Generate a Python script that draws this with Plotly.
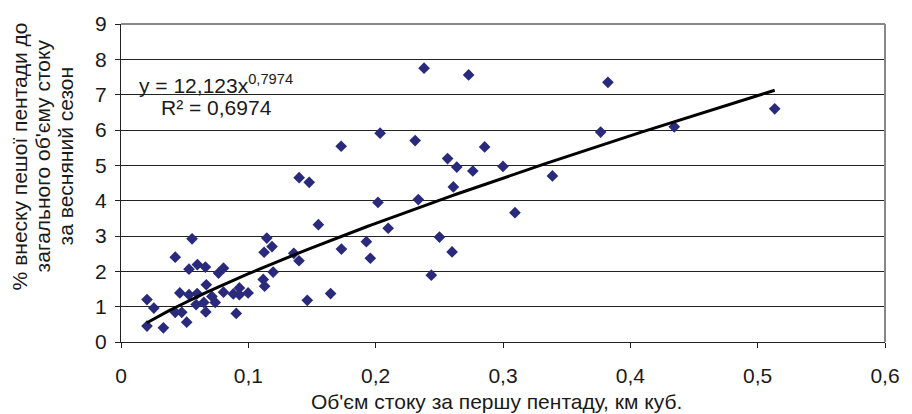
import numpy as np
import plotly.graph_objects as go

# Data
x_vals = [0.0204, 0.0258, 0.0204, 0.0333, 0.0426, 0.0426, 0.0477, 0.0462, 0.0516, 0.0534,
          0.0534, 0.0558, 0.0590, 0.0598, 0.0600, 0.0663, 0.0670, 0.0650, 0.0666, 0.0714,
          0.0740, 0.0766, 0.0805, 0.0805, 0.0882, 0.0930, 0.0930, 0.0998, 0.0905, 0.1117,
          0.1128, 0.1124, 0.1145, 0.1186, 0.1195, 0.1357, 0.1398, 0.1399, 0.1478, 0.1550,
          0.1463, 0.1646, 0.1731, 0.1729, 0.1927, 0.1958, 0.2018, 0.2098, 0.2035, 0.2310,
          0.2335, 0.2380, 0.2730, 0.2856, 0.2565, 0.2637, 0.2763, 0.3000, 0.2610, 0.2501,
          0.2600, 0.2437, 0.3094, 0.3388, 0.3767, 0.3824, 0.4345, 0.5134]
y_vals = [1.20, 0.96, 0.45, 0.40, 2.40, 0.84, 0.84, 1.39, 0.56, 1.34,
          2.06, 2.92, 1.06, 1.37, 2.19, 2.12, 1.62, 1.12, 0.85, 1.29,
          1.12, 1.95, 2.09, 1.41, 1.36, 1.53, 1.34, 1.39, 0.81, 1.77,
          1.58, 2.54, 2.94, 2.70, 1.98, 2.51, 2.30, 4.65, 4.52, 3.32,
          1.18, 1.37, 2.63, 5.54, 2.84, 2.37, 3.95, 3.22, 5.91, 5.70,
          4.03, 7.75, 7.56, 5.52, 5.19, 4.95, 4.84, 4.97, 4.39, 2.97,
          2.55, 1.89, 3.66, 4.70, 5.94, 7.35, 6.09, 6.60]

# Power trendline coefficients shown on the chart
coef_a = 12.123
coef_b = 0.7974
r2_text = "R² = 0,6974"
eq_text = "y = 12,123x<sup>0,7974</sup>"

x_ticks = [0, 0.1, 0.2, 0.3, 0.4, 0.5, 0.6]
x_tick_labels = ["0", "0,1", "0,2", "0,3", "0,4", "0,5", "0,6"]
y_ticks = list(range(0, 10))

x_title = "Об'єм стоку за першу пентаду, км куб."
y_title_lines = ["% внеску пешої пентади до", "загального об'єму стоку", "за весняний сезон"]

font_family = "Liberation Sans, Arial, sans-serif"
txt_color = "#1a1a1a"

trend_x = np.linspace(min(x_vals), max(x_vals), 200)
trend_y = coef_a * trend_x ** coef_b

fig = go.Figure()
fig.add_trace(go.Scatter(
    x=x_vals, y=y_vals, mode="markers",
    marker=dict(symbol="diamond", size=9, color="#2a2a7c", line=dict(width=0)),
    showlegend=False, hoverinfo="x+y"))
fig.add_trace(go.Scatter(
    x=trend_x, y=trend_y, mode="lines",
    line=dict(color="black", width=3),
    showlegend=False, hoverinfo="skip"))

# plot area in pixels: left 121, right 896, top 23, bottom 342.5
plot_left, plot_top, plot_bottom = 121, 23, 342.5
plot_h = plot_bottom - plot_top

annotations = [
    dict(x=0.021, y=0.812, xref="paper", yref="paper", text=eq_text, showarrow=False,
         xanchor="left", yanchor="middle", font=dict(size=21, family=font_family, color=txt_color)),
    dict(x=0.050, y=0.737, xref="paper", yref="paper", text=r2_text, showarrow=False,
         xanchor="left", yanchor="middle", font=dict(size=21, family=font_family, color=txt_color)),
    dict(x=0.5, y=0, xref="paper", yref="paper", text=x_title, showarrow=False,
         xanchor="center", yanchor="middle", xshift=-7, yshift=-(402 - plot_bottom),
         font=dict(size=21, family=font_family, color=txt_color)),
]
y_centers_px = [19, 42, 65]
y_mid = (plot_bottom - 156) / plot_h
for line_txt, cx in zip(y_title_lines, y_centers_px):
    annotations.append(dict(
        x=0, y=y_mid, xref="paper", yref="paper", text=line_txt, showarrow=False,
        textangle=-90, xanchor="center", yanchor="middle", xshift=cx - plot_left,
        font=dict(size=21, family=font_family, color=txt_color)))

fig.update_layout(
    width=912, height=414,
    margin=dict(l=121, r=16, t=23, b=72),
    paper_bgcolor="white", plot_bgcolor="white",
    font=dict(family=font_family, size=21, color=txt_color),
    xaxis=dict(range=[0, 0.6], tickvals=x_ticks, ticktext=x_tick_labels,
               showgrid=False, zeroline=False, showline=True, linecolor="#222", linewidth=1,
               ticks="outside", ticklen=5, tickcolor="#222", ticklabelstandoff=10,
               tickfont=dict(size=21)),
    yaxis=dict(range=[0, 9], tickvals=y_ticks,
               showgrid=True, gridcolor="#222", gridwidth=1, zeroline=False,
               showline=True, linecolor="#222", linewidth=1,
               ticks="outside", ticklen=5, tickcolor="#222", ticklabelstandoff=4,
               tickfont=dict(size=21)),
    annotations=annotations,
    shapes=[
        dict(type="line", xref="paper", yref="paper", x0=0, x1=1, y0=1, y1=1,
             line=dict(color="#888", width=2)),
        dict(type="line", xref="paper", yref="paper", x0=1, x1=1, y0=0, y1=1,
             line=dict(color="#888", width=2)),
    ],
)

fig.write_html("out.html")
